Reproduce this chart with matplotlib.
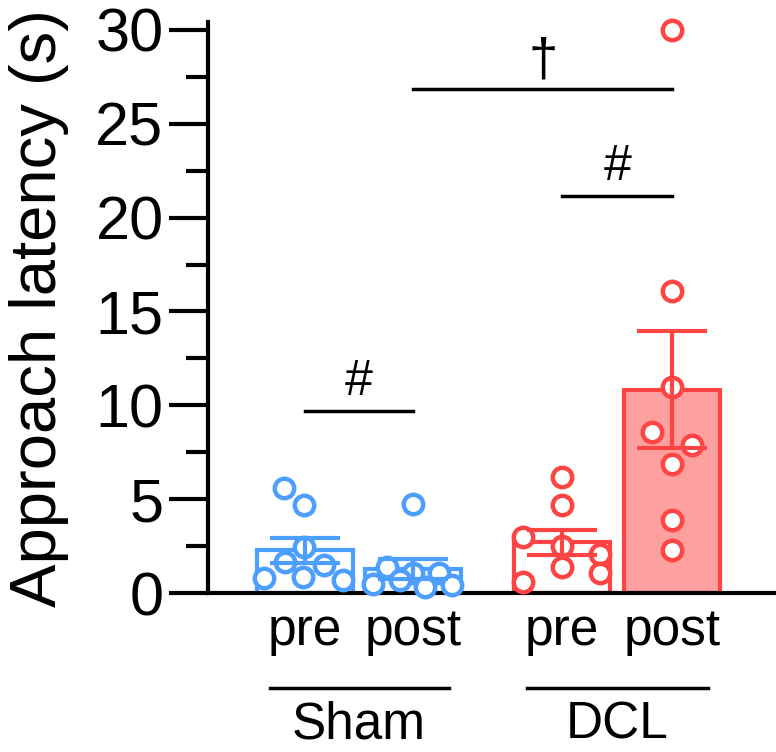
import numpy as np
import matplotlib
matplotlib.use('Agg')
import matplotlib.pyplot as plt
import matplotlib.transforms as mtransforms

plt.rcParams['font.family'] = ['Liberation Sans', 'DejaVu Sans']

# data
sham_pre = [5.6, 4.7, 2.45, 1.65, 1.5, 0.8, 0.85, 0.7]
sham_pre_dx = [-0.20, -0.01, -0.01, -0.19, 0.17, -0.38, -0.02, 0.35]
sham_post = [4.75, 1.4, 1.07, 1.07, 0.7, 0.5, 0.43, 0.32]
sham_post_dx = [0.0, -0.24, 0.0, 0.24, -0.12, -0.37, 0.36, 0.11]
dcl_pre = [6.2, 4.7, 3.0, 2.5, 2.1, 1.4, 1.06, 0.6]
dcl_pre_dx = [0.0, 0.0, -0.36, 0.0, 0.35, 0.0, 0.35, -0.36]
dcl_post = [30.0, 16.1, 11.0, 8.6, 7.9, 6.9, 3.9, 2.3]
dcl_post_dx = [0.0, 0.0, 0.0, -0.19, 0.18, 0.0, 0.0, 0.0]

groups = [sham_pre, sham_post, dcl_pre, dcl_post]
offsets = [sham_pre_dx, sham_post_dx, dcl_pre_dx, dcl_post_dx]
xpos = [0, 1, 2.38, 3.40]
tick_labels = ['pre', 'post', 'pre', 'post']
group_names = ['Sham', 'DCL']

blue = '#4d9fff'
red = '#ff4444'
edge_cols = [blue, blue, red, red]
fill_cols = ['white', 'white', 'white', '#ffa0a0']

fig = plt.figure(figsize=(7.76, 7.52), dpi=100)
ax = fig.add_axes([0.268, 0.2114, 0.732, 0.7588])

for i, vals in enumerate(groups):
    vals = np.array(vals)
    m = vals.mean()
    sem = vals.std(ddof=1) / np.sqrt(len(vals))
    ax.bar(xpos[i], m, width=0.89, color=fill_cols[i], edgecolor=edge_cols[i],
           linewidth=3, zorder=2)
    ax.plot(xpos[i] + np.array(offsets[i]), vals, 'o', markersize=14,
            markerfacecolor='white', markeredgecolor=edge_cols[i],
            markeredgewidth=3.2, zorder=3, clip_on=False)
    ax.errorbar(xpos[i], m, yerr=sem, color=edge_cols[i], elinewidth=3,
                capsize=25, capthick=3, zorder=4)

# significance marks
ax.plot([xpos[0], xpos[1]], [9.7, 9.7], color='black', lw=2.5)
ax.text(0.5 * (xpos[0] + xpos[1]), 10.0, '#', ha='center', va='bottom', fontsize=36)
ax.plot([xpos[2], xpos[3]], [21.15, 21.15], color='black', lw=2.5)
ax.text(0.5 * (xpos[2] + xpos[3]), 21.45, '#', ha='center', va='bottom', fontsize=36)
ax.plot([xpos[1], xpos[3]], [26.85, 26.85], color='black', lw=2.5)
ax.text(2.2, 27.0, '†', ha='center', va='bottom', fontsize=38)

ax.set_xlim(-0.9, 4.36)
ax.set_ylim(0, 30.4)
ax.set_yticks(np.arange(0, 31, 5))
ax.set_yticks(np.arange(2.5, 30, 5), minor=True)
ax.set_xticks(xpos)
ax.set_xticklabels(tick_labels, fontsize=37)
ax.tick_params(axis='x', length=0, pad=10)
ax.tick_params(axis='y', which='major', length=28, width=3, labelsize=44, pad=4)
ax.tick_params(axis='y', which='minor', length=16, width=3)
ax.set_ylabel('Approach latency (s)', fontsize=47)
ax.yaxis.set_label_coords(-0.245, 0.5)

for s in ['top', 'right']:
    ax.spines[s].set_visible(False)
ax.spines['left'].set_linewidth(3)
ax.spines['bottom'].set_linewidth(3)

trans = mtransforms.blended_transform_factory(ax.transData, ax.transAxes)
for (a, b), name in zip([(xpos[0], xpos[1]), (xpos[2], xpos[3])], group_names):
    ax.plot([a - 0.33, b + 0.33], [-0.1665, -0.1665], color='black', lw=2.5,
            transform=trans, clip_on=False)
    ax.text(0.5 * (a + b), -0.231, name, ha='center', va='center', fontsize=37,
            transform=trans)

fig.savefig('out.png', dpi=100)
